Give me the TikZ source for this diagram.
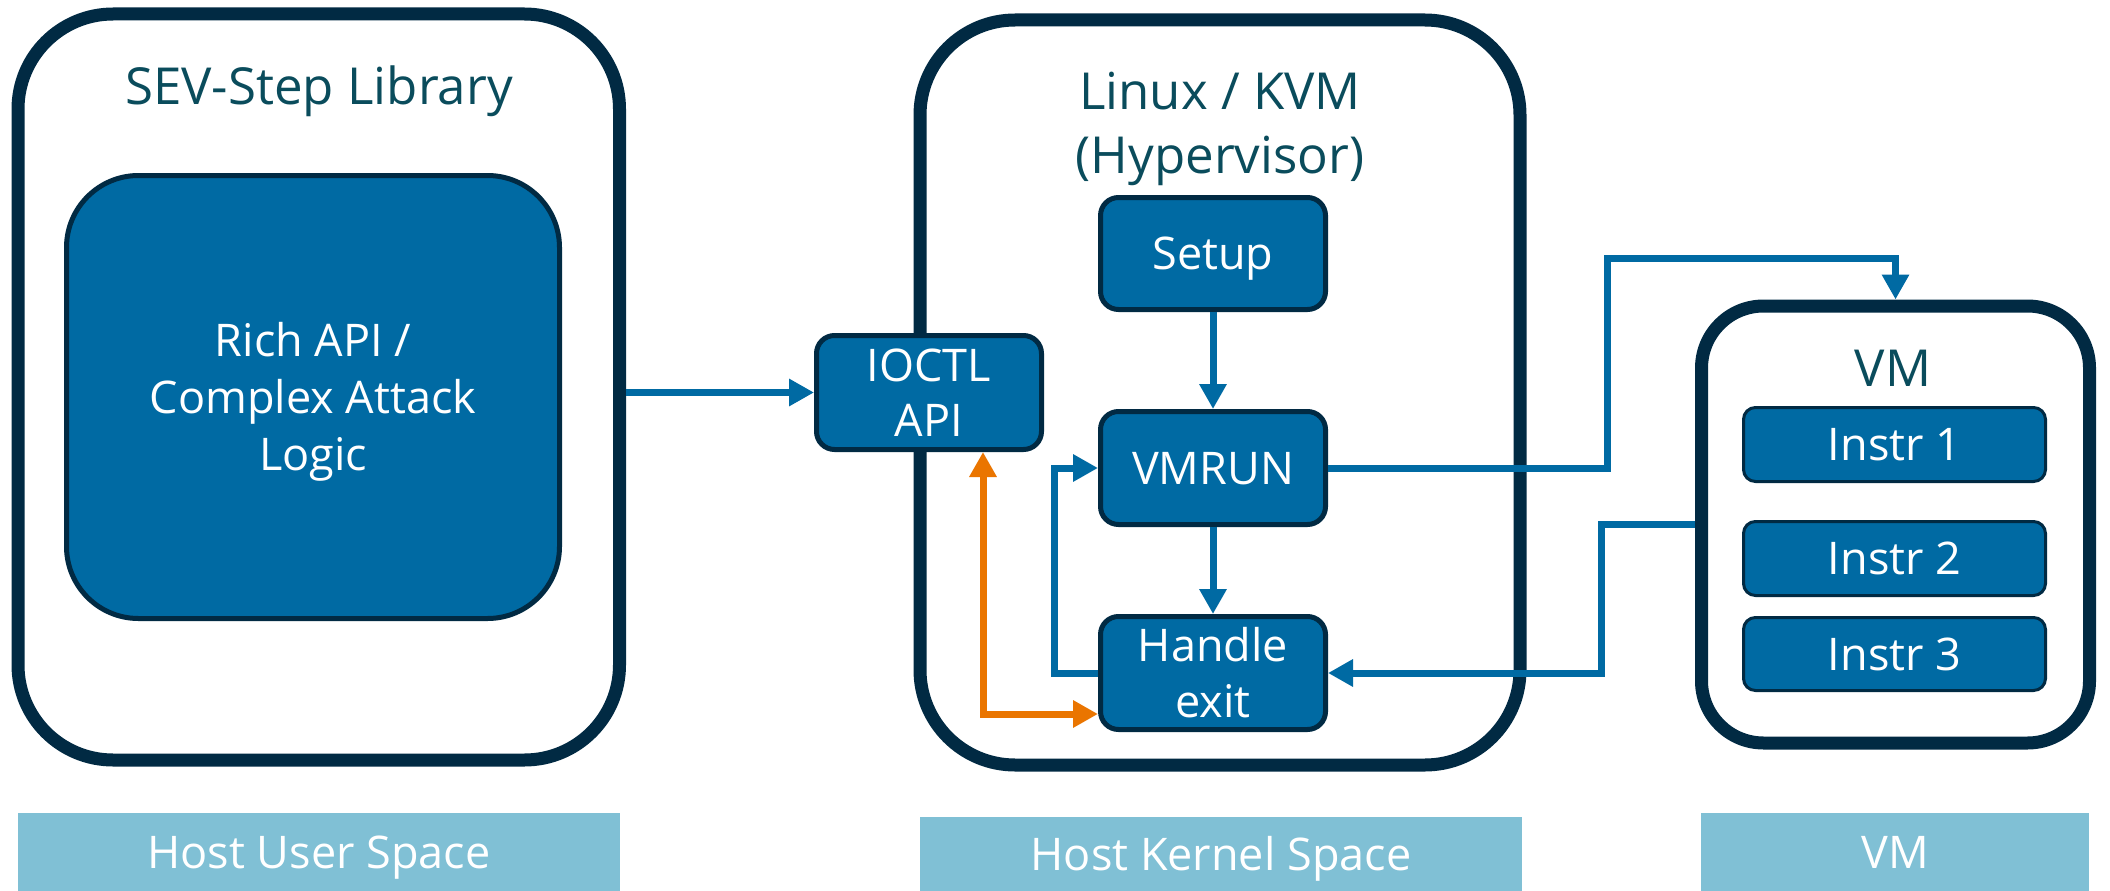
\documentclass[tikz,border=0pt]{standalone}
\usepackage{fontspec}
\setmainfont{Open Sans}
\usetikzlibrary{arrows.meta}
\definecolor{navy}{HTML}{012A43}
\definecolor{boxblue}{HTML}{006AA3}
\definecolor{titleteal}{HTML}{0A4C5C}
\definecolor{barblue}{HTML}{80C0D5}
\definecolor{orng}{HTML}{EA7500}
\begin{document}
\begin{tikzpicture}[x=1pt,y=-1pt,
  bigframe/.style={draw=navy, line width=13pt, fill=white, inner sep=0pt},
  titletext/.style={text=titleteal, font=\fontsize{51}{64}\selectfont, inner sep=0pt},
  bluebox/.style={draw=navy, fill=boxblue, text=white, inner sep=0pt, align=center},
  smallbox/.style={bluebox, line width=5pt, rounded corners=18pt, minimum width=225pt, minimum height=113pt, font=\fontsize{45}{56}\selectfont},
  oneline/.style={text height=32pt, text depth=0pt},
  twolines/.style={text height=32pt+#1, text depth=0pt},
  instrbox/.style={bluebox, oneline, line width=3pt, rounded corners=12pt, minimum width=302pt, minimum height=74pt, font=\fontsize{45}{56}\selectfont},
  bar/.style={fill=barblue, text=white, oneline, inner sep=0pt, font=\fontsize{45}{56}\selectfont},
  arr/.style={draw=boxblue, line width=7pt, -{Triangle[length=25pt,width=26pt]}},
  oarr/.style={draw=orng, line width=7pt, {Triangle[length=25pt,width=26pt]}-{Triangle[length=25pt,width=26pt]}}
]
\useasboundingbox (0,0) rectangle (2110,891);

% big frames
\node[bigframe, rounded corners=95pt, minimum width=601.5pt, minimum height=746pt] (sev) at (318.75,387) {};
\node[bigframe, rounded corners=95pt, minimum width=600pt, minimum height=745pt] (linux) at (1220,392.5) {};
\node[bigframe, rounded corners=62pt, minimum width=388pt, minimum height=437pt] (vm) at (1895.5,524.5) {};

% titles
\node[titletext, anchor=base] (sevt) at (319,104) {SEV-Step Library};
\node[titletext, anchor=base, align=center] (linuxt) at (1220,173) {Linux / KVM\\(Hypervisor)};
\node[titletext, anchor=base] (vmt) at (1893,386) {VM};

% inner boxes
\node[bluebox, line width=5pt, rounded corners=72pt, minimum width=493pt, minimum height=443pt, font=\fontsize{45}{57}\selectfont, twolines=114pt] (rich) at (313,397) {Rich API /\\Complex Attack\\Logic};
\node[smallbox, minimum height=114pt, font=\fontsize{45}{55}\selectfont, twolines=55pt] (ioctl) at (929,392.5) {IOCTL\\API};
\node[smallbox, oneline, minimum height=112pt] (setup) at (1213,253.5) {Setup};
\node[smallbox, oneline] (vmrun) at (1213,468) {VMRUN};
\node[smallbox, twolines=56pt] (hx) at (1213,673) {Handle\\exit};

\node[instrbox] (i1) at (1894.5,444.5) {Instr 1};
\node[instrbox] (i2) at (1894.5,558.5) {Instr 2};
\node[instrbox, minimum height=73pt] (i3) at (1894.5,654) {Instr 3};

% bottom labels
\node[bar, minimum width=602pt, minimum height=78pt] (hus) at (319,852) {Host User Space};
\node[bar, minimum width=602pt, minimum height=74pt] (hks) at (1221,854) {Host Kernel Space};
\node[bar, minimum width=388pt, minimum height=78pt] (vml) at (1895,852) {VM};

% connectors
\coordinate (bendA) at (1607,258);
\coordinate (bendB) at (1601,524.5);
\draw[arr] (sev.east |- ioctl.west) -- (ioctl.west);
\draw[arr] (setup.south) -- (vmrun.north);
\draw[arr] (vmrun.south) -- (hx.north);
\draw[arr] (hx.west) -- ([xshift=-44pt]hx.west) |- (vmrun.west);
\draw[oarr] ([xshift=54pt]ioctl.south) |- ([yshift=-41pt]hx.west);
\draw[arr] (vmrun.east) -| (bendA) -| (vm.north);
\draw[arr] (vm.west) -- (bendB) |- (hx.east);
\end{tikzpicture}
\end{document}
